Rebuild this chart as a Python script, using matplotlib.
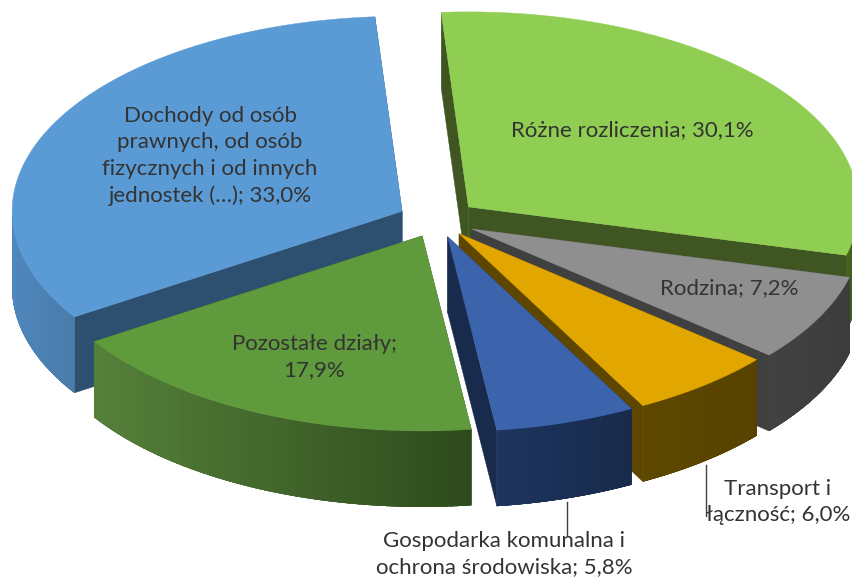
import numpy as np
import matplotlib
matplotlib.use("Agg")
import matplotlib.pyplot as plt
from matplotlib.patches import Polygon
from matplotlib.colors import to_rgb

categories = ["Różne rozliczenia", "Rodzina", "Transport i\nłączność",
              "Gospodarka komunalna i\nochrona środowiska", "Pozostałe działy;\n",
              "Dochody od osób\nprawnych, od osób\nfizycznych i od innych\njednostek (…)"]
values = [30.1, 7.2, 6.0, 5.8, 17.9, 33.0]

top_colors = ["#8FCE52", "#8F8F8F", "#E2A600", "#3B64AD", "#5F9A3C", "#5B9BD5"]
cut_colors = ["#3F5622", "#404040", "#5E4600", "#182B4C", "#3A5A24", "#2D5070"]
wall_left = ["#47641F", "#424242", "#5E4800", "#1E3560", "#55803A", "#4F86BC"]
wall_right = ["#3F5622", "#3C3C3C", "#574200", "#172A4A", "#2E4A1C", "#4A7BAA"]

label_xy = [(632, 130), (729, 288), (778, 502), (504, 554), (314, 357), (210, 156)]
explode = [0.105, 0.10, 0.09, 0.09, 0.09, 0.10]
draw_order = [0, 5, 1, 4, 2, 3]

cx, cy = 437, 220
a, b = 390, 195
depth = 76
start = -4.0

plt.rcParams["font.family"] = ["Lato", "DejaVu Sans"]
fig = plt.figure(figsize=(8.52, 5.8), dpi=100)
ax = fig.add_axes([0, 0, 1, 1])
ax.set_xlim(0, 852)
ax.set_ylim(580, 0)
ax.axis("off")

edges = start + np.concatenate([[0], np.cumsum(values)]) * 3.6 * 100 / sum(values)


def rim(t0, t1, ox, oy, n=90):
    th = np.radians(np.linspace(t0, t1, n))
    return ox + a * np.sin(th), oy - b * np.cos(th)


def blend(c0, c1, f):
    c0, c1 = np.array(to_rgb(c0)), np.array(to_rgb(c1))
    return c0 + (c1 - c0) * f


for order, i in enumerate(draw_order):
    t0, t1 = edges[i], edges[i + 1]
    mid = np.radians((t0 + t1) / 2)
    ox = cx + explode[i] * a * np.sin(mid)
    oy = cy - explode[i] * b * np.cos(mid)
    x, y = rim(t0, t1, ox, oy)
    z = 10 + order * 3

    # cut faces
    for ex, ey in ((x[0], y[0]), (x[-1], y[-1])):
        ax.add_patch(Polygon([(ox, oy), (ex, ey), (ex, ey + depth), (ox, oy + depth)],
                             closed=True, fc=cut_colors[i], ec=cut_colors[i], lw=0.3, zorder=z))
    # outer wall, only the front-facing part of the rim (90..270 degrees)
    wx, wy = rim(max(t0, 90), min(t1, 270), ox, oy)
    wall = Polygon(np.column_stack([np.r_[wx, wx[::-1]], np.r_[wy, wy[::-1] + depth]]), closed=True,
                   fc=blend(wall_left[i], wall_right[i], 0.5), ec="none", zorder=z + 0.1)
    ax.add_patch(wall)
    for k in range(len(wx) - 1):
        fx = (0.5 * (wx[k] + wx[k + 1]) - wx.min()) / max(wx.max() - wx.min(), 1)
        col = blend(wall_left[i], wall_right[i], fx)
        band = Polygon([(wx[k], wy[k]), (wx[k + 1], wy[k + 1]),
                        (wx[k + 1], wy[k + 1] + depth), (wx[k], wy[k] + depth)],
                       closed=True, fc=col, ec=col, lw=1.2, antialiased=False, zorder=z + 0.15)
        ax.add_patch(band)
        band.set_clip_path(wall)
    # top face
    ax.add_patch(Polygon(np.column_stack([np.r_[ox, x], np.r_[oy, y]]), closed=True,
                         fc=top_colors[i], ec=top_colors[i], lw=0.3, zorder=z + 0.2))

# leader lines
ax.plot([706, 706], [465, 516], color="#404040", lw=1.0, zorder=30)
ax.plot([567, 567], [502, 535], color="#404040", lw=1.0, zorder=30)

for name, val, (tx, ty) in zip(categories, values, label_xy):
    value_text = f"{val:.1f}%".replace(".", ",")
    txt = name + value_text if name.endswith("\n") else f"{name}; {value_text}"
    ax.text(tx, ty, txt, ha="center", va="center", fontsize=16.0, color="#333333",
            linespacing=1.4, zorder=40)

fig.savefig("out.png", dpi=100)
